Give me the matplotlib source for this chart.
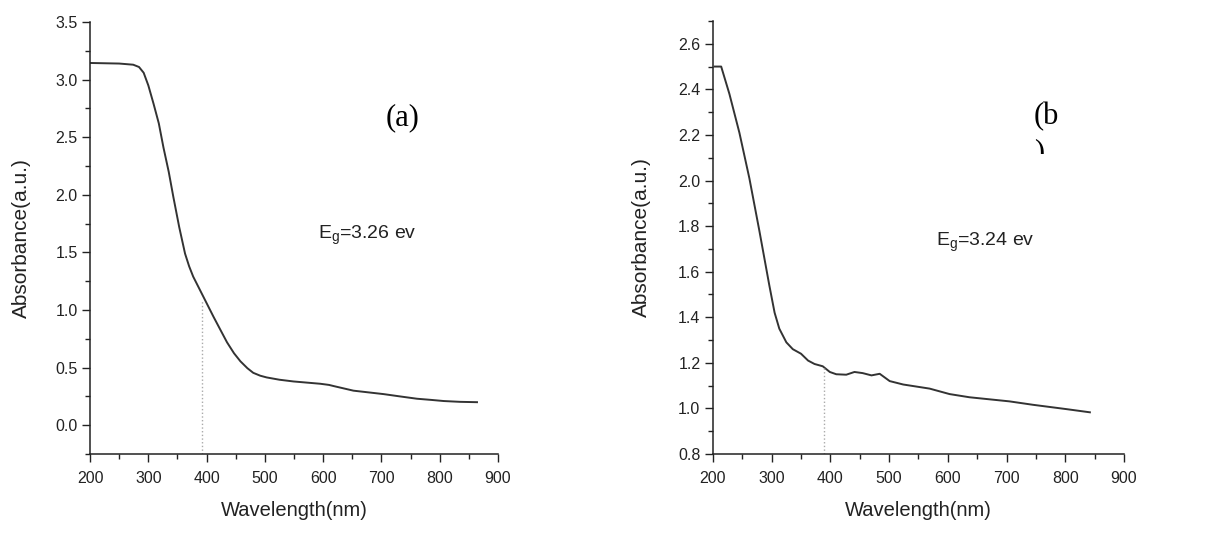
import matplotlib.pyplot as plt
from matplotlib.ticker import MultipleLocator
from matplotlib.transforms import Bbox, TransformedBbox

# (a) absorbance spectrum
wl_a = [200, 250, 274, 284, 292, 300, 309, 318, 326, 335, 343, 353, 363, 370, 377, 386, 395,
        404, 412, 424, 435, 447, 458, 470, 480, 492, 503, 525, 549, 572, 595, 610, 618, 635,
        652, 678, 704, 732, 761, 785, 807, 835, 864]
abs_a = [3.145, 3.14, 3.13, 3.11, 3.06, 2.95, 2.79, 2.62, 2.41, 2.2, 1.98, 1.72, 1.49, 1.38, 1.29,
         1.2, 1.11, 1.02, 0.94, 0.825, 0.72, 0.625, 0.555, 0.495, 0.455, 0.43, 0.415, 0.395, 0.38,
         0.37, 0.36, 0.35, 0.34, 0.32, 0.30, 0.285, 0.27, 0.25, 0.23, 0.22, 0.21, 0.203, 0.20]

# (b) absorbance spectrum
wl_b = [203, 214, 228, 245, 262, 279, 296, 305, 313, 325, 336, 350, 362, 373, 387, 399, 410,
        427, 441, 455, 470, 484, 501, 524, 569, 603, 637, 705, 745, 802, 842]
abs_b = [2.50, 2.50, 2.38, 2.21, 2.01, 1.78, 1.54, 1.42, 1.35, 1.29, 1.26, 1.24, 1.21, 1.195,
         1.185, 1.16, 1.15, 1.148, 1.16, 1.155, 1.145, 1.152, 1.12, 1.105, 1.087, 1.063, 1.049,
         1.031, 1.016, 0.997, 0.983]

edge_a = 392
edge_b = 388.5

plt.rcParams['font.family'] = ['Liberation Sans', 'DejaVu Sans']

fig = plt.figure(figsize=(12.32, 5.52), dpi=100)
ax1 = fig.add_axes([0.0731, 0.1775, 0.3311, 0.7825])
ax2 = fig.add_axes([0.5787, 0.1775, 0.3336, 0.7845])

line_col = '#333333'

ax1.plot(wl_a, abs_a, color=line_col, lw=1.4)
ax1.plot([edge_a, edge_a], [-0.25, 1.08], color='#aaaaaa', lw=1, ls=':')
ax1.set_xlim(200, 900)
ax1.set_ylim(-0.25, 3.5)
ax1.yaxis.set_major_locator(MultipleLocator(0.5))
ax1.yaxis.set_minor_locator(MultipleLocator(0.25))

ax2.plot(wl_b, abs_b, color=line_col, lw=1.4)
ax2.plot([edge_b, edge_b], [0.8, 1.185], color='#aaaaaa', lw=1, ls=':')
ax2.set_xlim(200, 900)
ax2.set_ylim(0.8, 2.7)
ax2.yaxis.set_major_locator(MultipleLocator(0.2))
ax2.yaxis.set_minor_locator(MultipleLocator(0.1))

for ax, ylc in ((ax1, -0.167), (ax2, -0.175)):
    ax.xaxis.set_major_locator(MultipleLocator(100))
    ax.xaxis.set_minor_locator(MultipleLocator(50))
    ax.spines['top'].set_visible(False)
    ax.spines['right'].set_visible(False)
    for s in ('left', 'bottom'):
        ax.spines[s].set_color('#222222')
        ax.spines[s].set_linewidth(1.1)
    ax.tick_params(which='major', length=6, width=1, color='#222222', labelsize=11.5,
                   labelcolor='#222222')
    ax.tick_params(which='minor', length=3.5, width=1, color='#222222')
    ax.tick_params(axis='x', pad=6)
    ax.tick_params(axis='y', pad=3)
    ax.set_xlabel('Wavelength(nm)', fontsize=14.5, color='#222222', va='center')
    ax.set_ylabel('Absorbance(a.u.)', fontsize=15, color='#222222', va='center')
    ax.xaxis.set_label_coords(0.5, -0.13)
    ax.yaxis.set_label_coords(ylc, 0.5)

ax1.text(737, 2.67, '(a)', fontsize=22, family='Liberation Serif', ha='center', va='center')
ax1.text(591, 1.65, r'E$_\mathregular{g}$=3.26 ev', fontsize=14, color='#222222', va='center')

ax2.text(767, 2.28, '(b', fontsize=22, family='Liberation Serif', ha='center', va='center')
t = ax2.text(755, 2.12, ')', fontsize=22, family='Liberation Serif', ha='center', va='center')
t.set_clip_box(TransformedBbox(Bbox([[700, 2.115], [850, 2.6]]), ax2.transData))
t.set_clip_on(True)
ax2.text(580, 1.73, r'E$_\mathregular{g}$=3.24 ev', fontsize=14, color='#222222', va='center')

fig.savefig('out.png', dpi=100, facecolor='white')
